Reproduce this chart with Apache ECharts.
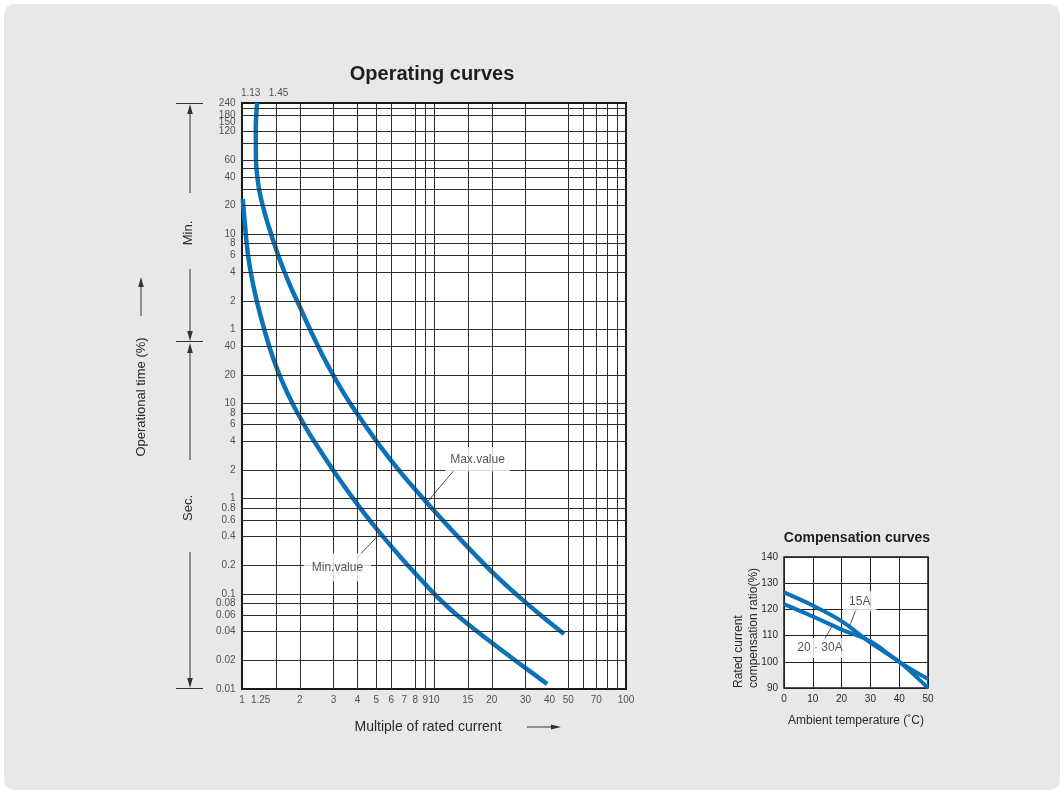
<!DOCTYPE html>
<html><head><meta charset="utf-8">
<script src="https://cdn.jsdelivr.net/npm/echarts@6/dist/echarts.min.js"></script>
<style>
html,body{margin:0;padding:0;background:#fff;}
#panel{position:absolute;left:4px;top:4px;width:1056px;height:786px;background:#e8e8e8;border-radius:10px;}
#chart{position:absolute;left:0;top:0;width:1064px;height:794px;}
</style></head><body>
<div id="panel"></div><div id="chart"></div>
<script>
// ---- Operating curves (x: multiple of rated current, y: time in seconds) ----
const maxCurrent = [1.198, 1.18, 1.183, 1.224, 1.279, 1.359, 1.551, 1.671, 1.82, 1.996, 2.184, 2.647, 3.083, 3.752, 5.121, 6.8, 9.238, 13.81, 19.6, 28.08, 38.14, 47.6];
const maxTime    = [14400, 7926, 3505, 1841, 1228, 789, 351, 237, 157, 105, 70, 31.2, 17.75, 9.3, 3.796, 1.823, 0.897, 0.369, 0.178, 0.0912, 0.0541, 0.0379];
const minCurrent = [1.0097, 1.034, 1.077, 1.158, 1.279, 1.443, 1.606, 1.866, 2.184, 2.431, 3.083, 3.951, 4.798, 5.65, 6.898, 7.63, 10.15, 12.0, 13.98, 17.78, 27.48, 38.85];
const minTime    = [1410, 789, 351, 157, 70, 31.2, 17.75, 9.3, 5.29, 3.74, 1.81, 0.897, 0.54, 0.3625, 0.227, 0.181, 0.0974, 0.0706, 0.0541, 0.0367, 0.0189, 0.0113];

const xTickLabels = [1, 1.25, 2, 3, 4, 5, 6, 7, 8, 9, 10, 15, 20, 30, 40, 50, 70, 100];
const topTickLabels = ['1.13', '1.45'];
const topTickAt = [1.11, 1.55];
const minuteTickLabels = [240, 180, 150, 120, 60, 40, 20, 10, 8, 6, 4, 2, 1];
const secondTickLabels = [40, 20, 10, 8, 6, 4, 2, 1, 0.8, 0.6, 0.4, 0.2, 0.1, 0.08, 0.06, 0.04, 0.02, 0.01];
const xGridLines = [1.5, 2, 3, 4, 5, 6, 8, 9, 10, 15, 20, 30, 50, 60, 70, 80, 90];
const minuteGridLines = [210, 180, 120, 90, 60, 50, 40, 30, 20, 10, 8, 6, 4, 2, 1];
const secondGridLines = [40, 20, 10, 8, 6, 4, 2, 1, 0.8, 0.6, 0.4, 0.2, 0.1, 0.08, 0.06, 0.04, 0.02];

const curveNotes = ['Max.value', 'Min.value'];
const curveNoteAt = [[16.85, 2.6], [3.14, 0.19]];
const curveNoteFrom = [[12.75, 2.0], [3.95, 0.237]];
const curveNoteTo = [[9.26, 0.93], [5.16, 0.416]];

// ---- Compensation curves ----
const compTemp = [0, 10, 20, 30, 40, 50];
const comp15A = [126.5, 121.5, 115.5, 107.3, 100, 90];
const comp2030A = [122, 117.3, 112.3, 107.8, 100, 93.4];
const compNotes = ['15A', '20 · 30A'];
const compNoteAt = [[26.3, 123.1], [12.5, 105.3]];
const compNoteFrom = [[25.2, 120.5], [13.6, 107.8]];
const compNoteTo = [[22.9, 114.0], [16.5, 113.2]];

const BLUE = '#0a72b8';
const F = "'Liberation Sans', Arial, Helvetica, sans-serif";
const TXT = '#2a2a2a';

function pairs(xs, ys) { return xs.map((x, i) => [x, ys[i]]); }

function arrowV(x, y1, y2) {
  const dir = y2 > y1 ? 1 : -1;
  return [
    {type:'line', shape:{x1:x, y1:y1, x2:x, y2:y2 - dir*6}, style:{stroke:'#333', lineWidth:1}},
    {type:'polygon', shape:{points:[[x, y2], [x-2.8, y2 - dir*10], [x+2.8, y2 - dir*10]]}, style:{fill:'#333'}}
  ];
}
function arrowH(y, x1, x2) {
  return [
    {type:'line', shape:{x1:x1, y1:y, x2:x2-6, y2:y}, style:{stroke:'#333', lineWidth:1}},
    {type:'polygon', shape:{points:[[x2, y], [x2-10, y-2.6], [x2-10, y+2.6]]}, style:{fill:'#333'}}
  ];
}
function hTick(y) { return {type:'line', shape:{x1:176, y1:y, x2:203, y2:y}, style:{stroke:'#333', lineWidth:1}}; }
function vText(text, x, y, size, align) {
  return {type:'text', x:x, y:y, rotation:Math.PI/2,
    style:{text:text, fill:TXT, fontSize:size, fontFamily:F, align:align || 'center', verticalAlign:'middle'}};
}

const graphics = [].concat(
  [hTick(103.5), hTick(341.5), hTick(688.5)],
  arrowV(190, 193, 104), arrowV(190, 269, 341), arrowV(190, 460, 343), arrowV(190, 552, 688),
  [vText('Min.', 188, 233, 13), vText('Sec.', 188, 508, 13), vText('Operational time (%)', 141, 397, 13)],
  arrowV(141, 316, 277),
  [{type:'text', x:428, y:727, style:{text:'Multiple of rated current', fill:TXT, fontSize:14, fontFamily:F, align:'center', verticalAlign:'middle'}}],
  arrowH(727, 527, 561),
  [vText('Rated current', 738.5, 688, 12, 'left'), vText('compensation ratio(%)', 753.5, 688, 12, 'left')]
);

const labelSeries = (data, pos, dist) => ({
  type:'scatter', xAxisIndex:0, yAxisIndex:0, symbolSize:1, clip:false, silent:true, z:4,
  itemStyle:{color:'rgba(0,0,0,0)'}, data:data,
  label:{show:true, position:pos, distance:dist, formatter:'{b}', fontSize:10, color:TXT, fontFamily:F}
});

const chart = echarts.init(document.getElementById('chart'));
chart.setOption({
  animation:false,
  title:[
    {text:'Operating curves', left:432, top:64, textAlign:'center', padding:0,
     textStyle:{fontSize:20, fontWeight:'bold', color:'#1e1e1e', fontFamily:F}},
    {text:'Compensation curves', left:857, top:531, textAlign:'center', padding:0,
     textStyle:{fontSize:14, fontWeight:'bold', color:'#1e1e1e', fontFamily:F}}
  ],
  grid:[
    {left:242, top:103, width:384, height:586, show:true, backgroundColor:'#fff', borderColor:'#1a1a1a', borderWidth:2},
    {left:784, top:557, width:144, height:131, show:true, backgroundColor:'#fff', borderColor:'#1a1a1a', borderWidth:1.5}
  ],
  xAxis:[
    {type:'log', logBase:10, gridIndex:0, min:1, max:100, axisLine:{show:false}, axisTick:{show:false}, axisLabel:{show:false}, splitLine:{show:false}},
    {type:'value', gridIndex:1, min:0, max:50, interval:10, axisLine:{show:false}, axisTick:{show:false},
     axisLabel:{fontSize:10, color:TXT, margin:6, fontFamily:F}, splitLine:{show:true, lineStyle:{color:'#222', width:1}},
     name:'Ambient temperature (˚C)', nameLocation:'middle', nameGap:27, nameTextStyle:{fontSize:12, color:TXT, fontFamily:F}}
  ],
  yAxis:[
    {type:'log', logBase:10, gridIndex:0, min:0.01, max:14400, axisLine:{show:false}, axisTick:{show:false}, axisLabel:{show:false}, splitLine:{show:false}},
    {type:'value', gridIndex:1, min:90, max:140, interval:10, axisLine:{show:false}, axisTick:{show:false},
     axisLabel:{fontSize:10, color:TXT, margin:6, fontFamily:F}, splitLine:{show:true, lineStyle:{color:'#222', width:1}}}
  ],
  graphic:graphics,
  series:[
    {type:'line', xAxisIndex:0, yAxisIndex:0, data:[], silent:true, z:1,
     markLine:{silent:true, symbol:['none','none'], label:{show:false}, animation:false,
       lineStyle:{type:'solid', color:'#2e2e2e', width:1},
       data:[].concat(xGridLines.map(v => ({xAxis:v})),
                      minuteGridLines.map(m => ({yAxis:m*60})),
                      secondGridLines.map(s => ({yAxis:s})))}},
    {name:'Max.value', type:'line', xAxisIndex:0, yAxisIndex:0, data:pairs(maxCurrent, maxTime), showSymbol:false, smooth:0.3,
     lineStyle:{color:BLUE, width:4.5}, z:3, silent:true},
    {name:'Min.value', type:'line', xAxisIndex:0, yAxisIndex:0, data:pairs(minCurrent, minTime), showSymbol:false, smooth:0.3,
     lineStyle:{color:BLUE, width:4.5}, z:3, silent:true},
    labelSeries([].concat(minuteTickLabels.map(m => ({name:String(m), value:[1, m*60]})),
                          secondTickLabels.map(s => ({name:String(s), value:[1, s]}))), 'left', 6),
    labelSeries(xTickLabels.map(v => ({name:String(v), value:[v, 0.01]})), 'bottom', 6),
    labelSeries(topTickLabels.map((t, i) => ({name:t, value:[topTickAt[i], 14400]})), 'top', 4),
    {type:'scatter', xAxisIndex:0, yAxisIndex:0, symbolSize:1, clip:false, silent:true, z:6,
     itemStyle:{color:'rgba(0,0,0,0)'},
     data:curveNotes.map((t, i) => ({name:t, value:curveNoteAt[i],
        label:{padding: i === 0 ? [6,5] : [8,8]}})),
     label:{show:true, position:'inside', formatter:'{b}', fontSize:12, color:TXT, fontFamily:F, backgroundColor:'#fff'},
     markLine:{silent:true, symbol:['none','none'], label:{show:false}, animation:false,
       lineStyle:{type:'solid', color:'#222', width:0.8},
       data:curveNotes.map((t, i) => [{coord:curveNoteFrom[i]}, {coord:curveNoteTo[i]}])}},
    {name:'15A', type:'line', xAxisIndex:1, yAxisIndex:1, data:pairs(compTemp, comp15A), showSymbol:false, smooth:0.3,
     lineStyle:{color:BLUE, width:4}, z:3, silent:true},
    {name:'20 · 30A', type:'line', xAxisIndex:1, yAxisIndex:1, data:pairs(compTemp, comp2030A), showSymbol:false, smooth:0.3,
     lineStyle:{color:BLUE, width:4}, z:3, silent:true},
    {type:'scatter', xAxisIndex:1, yAxisIndex:1, symbolSize:1, clip:false, silent:true, z:6,
     itemStyle:{color:'rgba(0,0,0,0)'},
     data:compNotes.map((t, i) => ({name:t, value:compNoteAt[i], label:{padding: i === 0 ? [4,6] : [4,4]}})),
     label:{show:true, position:'inside', formatter:'{b}', fontSize:12, color:TXT, fontFamily:F, backgroundColor:'#fff'},
     markLine:{silent:true, symbol:['none','none'], label:{show:false}, animation:false,
       lineStyle:{type:'solid', color:'#222', width:0.8},
       data:compNotes.map((t, i) => [{coord:compNoteFrom[i]}, {coord:compNoteTo[i]}])}}
  ]
});
</script></body></html>
